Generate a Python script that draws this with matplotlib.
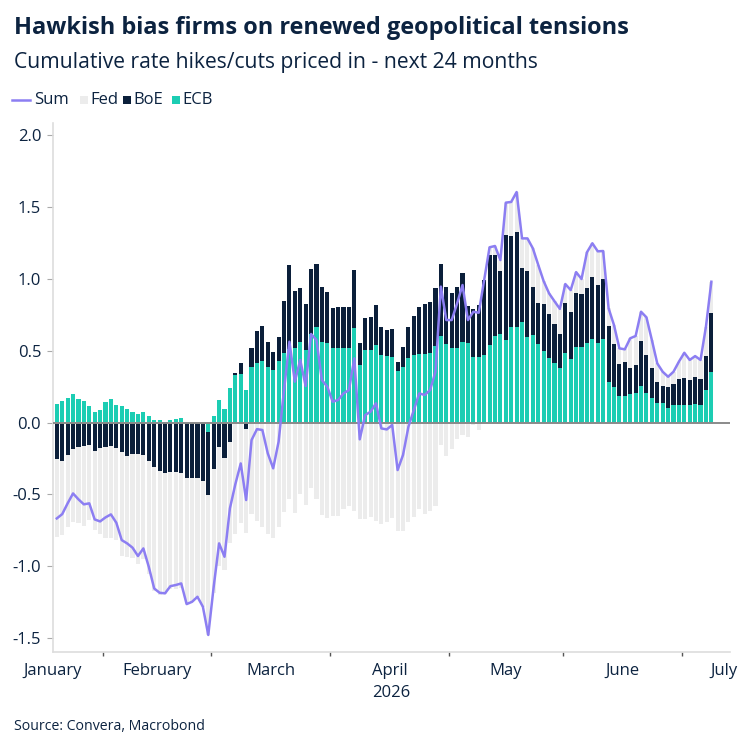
import numpy as np
import pandas as pd
import matplotlib
matplotlib.use('Agg')
import matplotlib.pyplot as plt
from matplotlib.lines import Line2D
from matplotlib.patches import Rectangle

plt.rcParams['font.family'] = ['Open Sans', 'DejaVu Sans']

# business days shown on the chart
dates = pd.bdate_range('2026-01-20', '2026-07-08')

# ECB, BoE and the Sum line (one value per business day)
ecb = np.array([
    0.127, 0.148, 0.168, 0.200, 0.166, 0.150, 0.115, 0.073, 0.089, 0.140,
    0.161, 0.122, 0.113, 0.096, 0.073, 0.059, 0.073, 0.048, 0.015, 0.015,
    0.006, 0.020, 0.028, 0.034, 0.000, 0.000, -0.005, -0.010, -0.064, 0.045,
    0.158, 0.093, 0.238, 0.334, 0.340, 0.228, 0.386, 0.412, 0.426, 0.386,
    0.366, 0.431, 0.482, 0.510, 0.517, 0.563, 0.505, 0.614, 0.668, 0.563,
    0.552, 0.521, 0.521, 0.521, 0.521, 0.661, 0.401, 0.505, 0.505, 0.540,
    0.470, 0.466, 0.459, 0.361, 0.389, 0.447, 0.470, 0.477, 0.477, 0.482,
    0.533, 0.603, 0.550, 0.521, 0.521, 0.563, 0.552, 0.454, 0.454, 0.470,
    0.540, 0.603, 0.617, 0.575, 0.663, 0.663, 0.703, 0.598, 0.610, 0.550,
    0.500, 0.452, 0.412, 0.377, 0.482, 0.443, 0.528, 0.528, 0.552, 0.582,
    0.552, 0.582, 0.283, 0.245, 0.185, 0.185, 0.199, 0.203, 0.257, 0.203,
    0.168, 0.138, 0.134, 0.103, 0.122, 0.122, 0.122, 0.122, 0.129, 0.122,
    0.230, 0.350])

boe = np.array([
    -0.257, -0.266, -0.226, -0.182, -0.168, -0.164, -0.154, -0.196, -0.180, -0.168,
    -0.164, -0.175, -0.208, -0.231, -0.220, -0.220, -0.226, -0.270, -0.310, -0.335,
    -0.354, -0.343, -0.345, -0.350, -0.383, -0.389, -0.380, -0.400, -0.441, -0.327,
    -0.170, -0.250, -0.137, 0.010, 0.078, -0.045, 0.130, 0.228, 0.250, 0.176,
    0.122, 0.162, 0.367, 0.585, 0.399, 0.372, 0.321, 0.456, 0.437, 0.379,
    0.360, 0.275, 0.286, 0.286, 0.286, 0.402, 0.151, 0.221, 0.228, 0.279,
    0.198, 0.179, 0.190, 0.063, 0.139, 0.216, 0.272, 0.326, 0.349, 0.360,
    0.402, 0.500, 0.397, 0.379, 0.421, 0.481, 0.260, 0.335, 0.365, 0.523,
    0.627, 0.564, 0.439, 0.732, 0.637, 0.662, 0.371, 0.458, 0.337, 0.280,
    0.326, 0.304, 0.274, 0.240, 0.348, 0.329, 0.372, 0.367, 0.388, 0.434,
    0.406, 0.416, 0.387, 0.302, 0.220, 0.239, 0.183, 0.198, 0.313, 0.267,
    0.214, 0.142, 0.120, 0.147, 0.146, 0.181, 0.186, 0.174, 0.190, 0.181,
    0.233, 0.415])

total = np.array([
    -0.668, -0.638, -0.563, -0.494, -0.535, -0.570, -0.563, -0.675, -0.689, -0.661,
    -0.640, -0.698, -0.819, -0.842, -0.872, -0.930, -0.877, -1.005, -1.156, -1.186,
    -1.190, -1.140, -1.132, -1.121, -1.265, -1.249, -1.214, -1.283, -1.480, -1.144,
    -0.842, -0.935, -0.598, -0.430, -0.285, -0.540, -0.122, -0.046, -0.052, -0.215,
    -0.319, -0.134, 0.226, 0.563, 0.285, 0.436, 0.254, 0.617, 0.575, 0.296,
    0.250, 0.145, 0.157, 0.203, 0.226, 0.447, -0.117, 0.052, 0.075, 0.134,
    -0.041, -0.048, -0.017, -0.331, -0.226, -0.029, 0.087, 0.203, 0.192, 0.226,
    0.354, 0.947, 0.714, 0.714, 0.830, 0.958, 0.714, 0.772, 0.765, 0.993,
    1.221, 1.230, 1.132, 1.532, 1.537, 1.606, 1.283, 1.283, 1.214, 1.098,
    0.985, 0.900, 0.845, 0.792, 0.965, 0.923, 1.048, 1.000, 1.186, 1.249,
    1.193, 1.195, 0.796, 0.679, 0.517, 0.510, 0.587, 0.603, 0.772, 0.733,
    0.575, 0.412, 0.354, 0.319, 0.354, 0.424, 0.486, 0.436, 0.463, 0.436,
    0.668, 0.981])

# Fed bars are what is left of the Sum line after ECB and BoE
fed = total - ecb - boe

navy = '#0b1f3a'
teal = '#1ccdb3'
grey = '#ececec'
purple = '#8c7ef2'
txt = '#0c2340'

fig = plt.figure(figsize=(7.5, 7.5), dpi=100)
ax = fig.add_axes([0.0707, 0.131, 0.9023, 0.705])

x = np.arange(len(dates))
pos = np.zeros(len(x))
neg = np.zeros(len(x))
for vals, col in [(ecb, teal), (boe, navy), (fed, grey)]:
    base = np.where(vals >= 0, pos, neg)
    ax.bar(x, vals, bottom=base, width=0.76, color=col, linewidth=0, zorder=2)
    pos = pos + np.clip(vals, 0, None)
    neg = neg + np.clip(vals, None, 0)

ax.axhline(0, color='#8a8a8a', lw=1.4, zorder=3)
ax.plot(x, total, color=purple, lw=1.8, zorder=4, solid_joinstyle='round')

ax.set_xlim(-0.5, 124.4)
ax.set_ylim(-1.597, 2.087)
ax.set_yticks([-1.5, -1.0, -0.5, 0.0, 0.5, 1.0, 1.5, 2.0])
ax.set_yticklabels(['-1.5', '-1.0', '-0.5', '0.0', '0.5', '1.0', '1.5', '2.0'])

# month boundaries as major ticks, month names as minor labels
month = dates.month.values
bounds = [i + 0.5 for i in range(len(month) - 1) if month[i] != month[i + 1]]
ax.set_xticks(bounds)
ax.set_xticklabels([])
names = ['January', 'February', 'March', 'April', 'May', 'June', 'July']
edges = [-13.5] + bounds + [137.5]
centers = [(edges[k] + edges[k + 1]) / 2 for k in range(len(names))]
centers[0] = -0.7
centers[-1] = 123.3
ax.set_xticks(centers, minor=True)
ax.set_xticklabels(names, minor=True)
ax.tick_params(axis='x', which='minor', length=0, pad=8, labelsize=12, colors=txt)
ax.tick_params(axis='x', which='major', length=3, width=1, color='#555555')
ax.tick_params(axis='y', length=4.5, width=0.8, color='#aaaaaa', labelsize=12,
               labelcolor=txt, pad=4)
ax.text(centers[3] + 0.3, -0.078, '2026', transform=ax.get_xaxis_transform(),
        ha='center', va='center', fontsize=12, color=txt)

for s in ['top', 'right']:
    ax.spines[s].set_visible(False)
for s in ['left', 'bottom']:
    ax.spines[s].set_color('#dddddd')
    ax.spines[s].set_linewidth(1.2)

fig.text(0.019, 0.963, 'Hawkish bias firms on renewed geopolitical tensions',
         fontsize=16.9, fontweight='bold', color=txt, va='center')
fig.text(0.019, 0.917, 'Cumulative rate hikes/cuts priced in - next 24 months',
         fontsize=15.2, color=txt, va='center')
fig.text(0.019, 0.032, 'Source: Convera, Macrobond', fontsize=10.2, color=txt,
         va='center')

# legend row, laid out in figure pixels
W = 750.0
ly = 1 - 100 / W
fig.add_artist(Line2D([12 / W, 30 / W], [ly, ly], color=purple, lw=1.8,
                      transform=fig.transFigure))
fig.text(34 / W, ly, 'Sum', fontsize=12, color=txt, va='center')
for x0, col, lab in [(80, grey, 'Fed'), (123, navy, 'BoE'), (172, teal, 'ECB')]:
    fig.add_artist(Rectangle((x0 / W, ly - 4 / W), 8 / W, 8 / W, color=col,
                             transform=fig.transFigure, lw=0))
    fig.text((x0 + 10) / W, ly, lab, fontsize=12, color=txt, va='center')

fig.savefig('out.png', dpi=100)
